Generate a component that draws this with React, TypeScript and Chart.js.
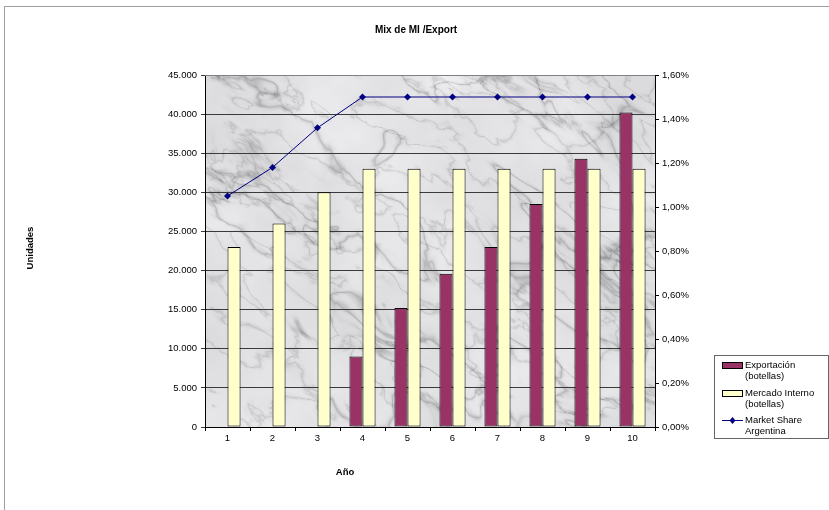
import React, { useEffect, useRef } from "react";
import { Chart, registerables } from "chart.js";

Chart.register(...registerables);

// Years on the horizontal axis
const years = ["1", "2", "3", "4", "5", "6", "7", "8", "9", "10"];
// Export volume (bottles); no exports during the first three years
const exportacion = [null, null, null, 9000, 15200, 19600, 23000, 28500, 34300, 40200];
// Domestic market volume (bottles)
const mercadoInterno = [23000, 26000, 30000, 33000, 33000, 33000, 33000, 33000, 33000, 33000];
// Market share in Argentina (fraction)
const marketShare = [0.0105, 0.0118, 0.0136, 0.015, 0.015, 0.015, 0.015, 0.015, 0.015, 0.015];

// Axis ranges
const unitsMax = 45000;
const unitsStep = 5000;
const shareMax = 0.016;
const shareStep = 0.002;

const FONT = "'Liberation Sans', Arial, Helvetica, sans-serif";
const EXPORT_COLOR = "#993366";
const MI_COLOR = "#FFFFCC";
const LINE_COLOR = "#000080";

function fmtUnits(v: number): string {
  return String(Math.round(v)).replace(/\B(?=(\d{3})+(?!\d))/g, ".");
}
function fmtShare(v: number): string {
  return (v * 100).toFixed(2).replace(".", ",") + "%";
}

// Deterministic value noise for the marble plot background
function hash2(x: number, y: number): number {
  let h = Math.imul(x, 374761393) + Math.imul(y, 668265263);
  h = Math.imul(h ^ (h >>> 13), 1274126177);
  h = h ^ (h >>> 16);
  return (h >>> 0) / 4294967295;
}
function smooth(t: number) {
  return t * t * (3 - 2 * t);
}
function vnoise(x: number, y: number): number {
  const xi = Math.floor(x), yi = Math.floor(y);
  const xf = x - xi, yf = y - yi;
  const a = hash2(xi, yi), b = hash2(xi + 1, yi);
  const c = hash2(xi, yi + 1), d = hash2(xi + 1, yi + 1);
  const u = smooth(xf), v = smooth(yf);
  return a + (b - a) * u + (c - a) * v + (a - b - c + d) * u * v;
}
function fbm(x: number, y: number, oct = 5): number {
  let s = 0, amp = 0.5, f = 1;
  for (let i = 0; i < oct; i++) {
    s += amp * vnoise(x * f, y * f);
    f *= 2;
    amp *= 0.5;
  }
  return s;
}

function makeMarble(w: number, h: number): HTMLCanvasElement {
  const c = document.createElement("canvas");
  c.width = w;
  c.height = h;
  const g = c.getContext("2d")!;
  const img = g.createImageData(w, h);
  for (let y = 0; y < h; y++) {
    for (let x = 0; x < w; x++) {
      // rotated, stretched coordinates give the veins a diagonal grain
      const u = (x * 0.8 + y * 0.6) / 85;
      const v = (-x * 0.6 + y * 0.8) / 45;
      const wx = fbm(u * 0.7 + 3, v * 0.7 + 7, 3) * 2.0;
      const wy = fbm(u * 0.7 + 11, v * 0.7 + 1, 3) * 2.0;
      const n1 = fbm(u + wx, v + wy, 5);
      const n2 = fbm(u * 1.7 + wy + 40, v * 1.7 + wx + 20, 5);
      const r1 = 1 - Math.abs(n1 * 2 - 1);
      const r2 = 1 - Math.abs(n2 * 2 - 1);
      const mott = fbm(x / 60 + 90, y / 60 + 30, 4);
      let val = 228 + (mott - 0.5) * 26;
      val -= 48 * Math.pow(r1, 22);
      val -= 30 * Math.pow(r2, 26);
      val = Math.max(140, Math.min(246, val));
      const i = (y * w + x) * 4;
      img.data[i] = val;
      img.data[i + 1] = val;
      img.data[i + 2] = val + 3;
      img.data[i + 3] = 255;
    }
  }
  g.putImageData(img, 0, 0);
  return c;
}

const decorPlugin = {
  id: "decor",
  beforeDraw(chart: any) {
    const { ctx, chartArea: a } = chart;
    ctx.save();
    ctx.fillStyle = "#ffffff";
    ctx.fillRect(0, 0, chart.width, chart.height);
    ctx.strokeStyle = "#a0a0a0";
    ctx.lineWidth = 1;
    ctx.strokeRect(4.5, 6.5, chart.width + 20, chart.height + 20);
    const w = Math.round(a.right - a.left);
    const h = Math.round(a.bottom - a.top);
    if (!chart.$marble || chart.$marble.width !== w || chart.$marble.height !== h) {
      chart.$marble = makeMarble(w, h);
    }
    ctx.beginPath();
    ctx.rect(Math.round(a.left), Math.round(a.top), w, h);
    ctx.clip();
    ctx.filter = "blur(0.6px)";
    ctx.drawImage(chart.$marble, Math.round(a.left), Math.round(a.top));
    ctx.filter = "none";
    ctx.restore();
  },
  afterDraw(chart: any) {
    const { ctx, chartArea: a } = chart;
    ctx.save();
    // plot frame top
    ctx.strokeStyle = "#808080";
    ctx.lineWidth = 1;
    ctx.beginPath();
    ctx.moveTo(Math.round(a.left), Math.round(a.top) + 0.5);
    ctx.lineTo(Math.round(a.right), Math.round(a.top) + 0.5);
    ctx.stroke();

    ctx.fillStyle = "#000";
    ctx.textAlign = "center";
    ctx.textBaseline = "middle";
    ctx.font = `bold 10px ${FONT}`;
    ctx.fillText("Mix de MI /Export", 416, 30);
    ctx.font = `bold 9.5px ${FONT}`;
    ctx.fillText("Año", 345, 472);
    ctx.save();
    ctx.translate(30, 248);
    ctx.rotate(-Math.PI / 2);
    ctx.fillText("Unidades", 0, 0);
    ctx.restore();

    // legend
    const lx = 714.5, ly = 355.5, lw = 114, lh = 83;
    ctx.fillStyle = "#ffffff";
    ctx.fillRect(lx, ly, lw, lh);
    ctx.strokeStyle = "#666666";
    ctx.strokeRect(lx, ly, lw, lh);

    ctx.font = `9.5px ${FONT}`;
    ctx.textAlign = "left";
    ctx.textBaseline = "middle";
    const tx = 745;
    const rows = [
      { y: 365, lines: ["Exportación", "(botellas)"], kind: "bar", color: EXPORT_COLOR },
      { y: 393, lines: ["Mercado Interno", "(botellas)"], kind: "bar", color: MI_COLOR },
      { y: 420, lines: ["Market Share", "Argentina"], kind: "line", color: LINE_COLOR },
    ];
    for (const r of rows) {
      if (r.kind === "bar") {
        ctx.fillStyle = r.color;
        ctx.fillRect(722.5, r.y - 3 + 0.5, 20, 6);
        ctx.strokeStyle = "#000";
        ctx.strokeRect(722.5, r.y - 3 + 0.5, 20, 6);
      } else {
        ctx.strokeStyle = r.color;
        ctx.beginPath();
        ctx.moveTo(722, r.y + 0.5);
        ctx.lineTo(743, r.y + 0.5);
        ctx.stroke();
        ctx.fillStyle = r.color;
        ctx.beginPath();
        ctx.moveTo(732.5, r.y - 3);
        ctx.lineTo(735.5, r.y + 0.5);
        ctx.lineTo(732.5, r.y + 4);
        ctx.lineTo(729.5, r.y + 0.5);
        ctx.closePath();
        ctx.fill();
      }
      ctx.fillStyle = "#000";
      ctx.fillText(r.lines[0], tx, r.y);
      ctx.fillText(r.lines[1], tx, r.y + 11);
    }
    ctx.restore();
  },
};

export default function App() {
  const ref = useRef<HTMLCanvasElement | null>(null);

  useEffect(() => {
    if (!ref.current) return;
    const tickFont = { family: FONT, size: 9.5 };
    const chart = new Chart(ref.current, {
      type: "bar",
      data: {
        labels: years,
        datasets: [
          {
            type: "bar",
            label: "Exportación (botellas)",
            data: exportacion as any,
            backgroundColor: EXPORT_COLOR,
            borderColor: "#000000",
            borderWidth: 1,
            borderSkipped: false,
            yAxisID: "y",
            order: 1,
            barPercentage: 1,
            categoryPercentage: 0.58,
          },
          {
            type: "bar",
            label: "Mercado Interno (botellas)",
            data: mercadoInterno,
            backgroundColor: MI_COLOR,
            borderColor: "#000000",
            borderWidth: 1,
            borderSkipped: false,
            yAxisID: "y",
            order: 1,
            barPercentage: 1,
            categoryPercentage: 0.58,
          },
          {
            type: "line",
            label: "Market Share Argentina",
            data: marketShare,
            borderColor: LINE_COLOR,
            backgroundColor: LINE_COLOR,
            borderWidth: 1,
            pointStyle: "rectRot",
            pointRadius: 3.5,
            pointBorderWidth: 0,
            tension: 0,
            yAxisID: "y2",
            order: 0,
          },
        ],
      },
      options: {
        animation: false,
        responsive: false,
        layout: { padding: { top: 75, bottom: 63, left: 0, right: 0 } },
        plugins: {
          legend: { display: false },
          title: { display: false },
          tooltip: { enabled: false },
        },
        scales: {
          x: {
            type: "category",
            offset: true,
            grid: {
              offset: true,
              drawOnChartArea: false,
              drawTicks: true,
              tickLength: 4,
              color: "#000",
            },
            border: { color: "#000" },
            ticks: { color: "#000", font: tickFont, padding: 2, maxRotation: 0 },
            afterFit: (s: any) => {
              s.height = 20;
            },
          },
          y: {
            position: "left",
            min: 0,
            max: unitsMax,
            grid: { color: "#3a3a3a", tickLength: 4 },
            border: { color: "#000" },
            ticks: {
              stepSize: unitsStep,
              color: "#000",
              font: tickFont,
              padding: 4,
              callback: (v: any) => fmtUnits(Number(v)),
            },
            afterFit: (s: any) => {
              s.width = 205;
            },
          },
          y2: {
            position: "right",
            min: 0,
            max: shareMax,
            grid: { drawOnChartArea: false, color: "#000", tickLength: 4 },
            border: { color: "#000" },
            ticks: {
              stepSize: shareStep,
              color: "#000",
              font: tickFont,
              padding: 3,
              callback: (v: any) => fmtShare(Number(v)),
            },
            afterFit: (s: any) => {
              s.width = 174;
            },
          },
        },
      },
      plugins: [decorPlugin],
    });
    return () => chart.destroy();
  }, []);

  return (
    <div style={{ position: "fixed", left: 0, top: 0, width: 829, height: 510, background: "#fff" }}>
      <canvas ref={ref} width={829} height={510} style={{ display: "block" }} />
    </div>
  );
}
